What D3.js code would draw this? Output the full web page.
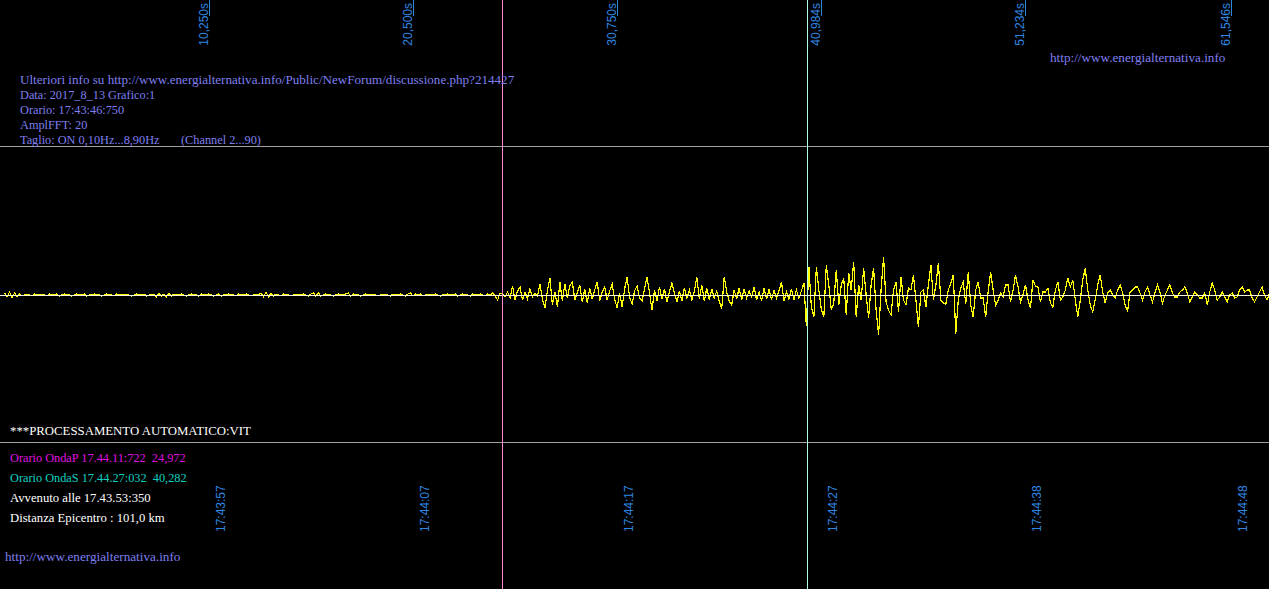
<!DOCTYPE html>
<html><head><meta charset="utf-8">
<script src="https://cdn.jsdelivr.net/npm/d3@7"></script>
<style>html,body{margin:0;padding:0;background:#000;overflow:hidden}</style>
</head><body><svg id="c" width="1269" height="589"></svg>
<script>
// ---- data ----
const sampleRate = 8; // samples per second
const amplitude = [
 2,-2,3,-3,2,-2,1,-1,0,1, 0,-1,1,0,0,1,0,-1,1,0, 0,1,-1,0,1,0,0,-1,0,1, 0,0,1,-1,0,0,1,0,0,-1,
 0,1,0,0,-1,1,0,0,1,0, 0,-1,0,1,0,0,1,-1,0,0, 1,-2,2,-1,1,-2,2,-1,1,0, 0,1,0,-1,0,1,0,0,-1,1,
 0,0,1,0,-1,0,1,-1,0,0, 1,0,0,-1,1,0,0,1,0,-1, 0,1,0,2,-2,3,-2,2,-1,1, 0,-1,1,0,0,-1,0,1,0,0,
 1,0,-1,1,2,-1,2,-1,0,1, 0,0,-1,0,1,0,0,1,2,-1, 1,0,0,-1,0,1,0,0,1,0, -1,0,1,0,0,-1,1,0,0,1,
 0,-1,1,2,-1,1,0,1,-1,0, 1,0,0,1,0,-1,0,0,1,0, 0,1,-1,0,1,0,0,-1,1,0, 0,1,0,-1,1,0,2,-1,-5,2,
 1,-2,3,-3,9,-5,4,8,-5,3, -4,6,-2,2,-1,11,-4,-13,4,17, -10,3,-12,13,-6,11,-3,9,13,-5,
 2,10,-7,6,-8,7,-4,5,13,-6, 3,8,-5,4,11,-4,-13,2,-12,6, 18,-2,-9,4,9,-3,-6,6,18,2,
 -15,5,-6,8,-4,6,-7,3,12,2, -7,4,-6,7,-3,5,-5,4,18,-4, 10,-6,7,-5,6,-3,4,-6,-14,18,
 3,-6,-10,5,-4,7,-5,6,-3,4, -2,8,-5,3,-6,7,-4,6,-5,5, -3,4,13,-6,3,-4,6,-5,5,-3,
 4,12,-31,28,-12,-22,28,5,-14,-22, 30,10,-15,-8,25,-10,10,17,-20,22, 5,33,-22,10,-5,27,0,-23,10,27,
 -15,-40,5,38,-7,-15,-20,5,13,-17, 18,-5,-10,7,5,20,-5,-32,3,5, -12,10,30,-5,10,32,-5,-8,-9,5,
 12,20,-39,-5,7,13,-9,23,-10,-22, 5,13,-3,-3,-22,3,23,5,-10,-5, 2,-2,10,10,-7,5,20,8,-7,0,
 10,-5,-13,15,9,8,-7,3,3,7, -8,-12,5,13,-5,-2,5,17,8,15, -5,-22,-5,15,27,5,-10,-17,-5,10,
 20,3,-8,2,5,0,-3,5,10,2, -10,-16,3,5,8,8,2,-5,3,8, 0,-7,2,10,3,-8,0,5,10,2,
 -2,-2,3,5,8,2,-7,-2,3,0, -3,-3,2,-10,3,12,5,-5,-2,3, -2,-7,0,2,-3,-2,5,8,3,5,
 5,-3,-7,-2,3,8,0,-5,2
];
const tickSeconds = [10.25, 20.5, 30.75, 40.984, 51.234, 61.546];
const topTickLabels = ["10,250s", "20,500s", "30,750s", "40,984s", "51,234s", "61,546s"];
const bottomTickLabels = ["17:43:57", "17:44:07", "17:44:17", "17:44:27", "17:44:38", "17:44:48"];
const pWaveSeconds = 24.972;
const sWaveSeconds = 40.282;
const infoLines = [
 "Ulteriori info su http://www.energialternativa.info/Public/NewForum/discussione.php?214427",
 "Data: 2017_8_13 Grafico:1",
 "Orario: 17:43:46:750",
 "AmplFFT: 20",
 "Taglio: ON 0,10Hz...8,90Hz       (Channel 2...90)"
];
const siteUrl = "http://www.energialternativa.info";
const processingTitle = "***PROCESSAMENTO AUTOMATICO:VIT";
const eventLines = [
 "Orario OndaP 17.44.11:722  24,972",
 "Orario OndaS 17.44.27:032  40,282",
 "Avvenuto alle 17.43.53:350",
 "Distanza Epicentro : 101,0 km"
];

// ---- drawing ----
const W = 1269, H = 589;
const svg = d3.select("#c");
svg.append("rect").attr("width", W).attr("height", H).attr("fill", "#000");

const x = d3.scaleLinear().domain([0, 60]).range([4.6, 4.6 + 19.92 * 60]);
const y = d3.scaleLinear().domain([-100, 100]).range([395, 195]);
const px = v => Math.round(v) + 0.5;

// grey separators
[146, 442].forEach(yy => svg.append("line").attr("x1", 0).attr("x2", W)
  .attr("y1", yy + 0.5).attr("y2", yy + 0.5).attr("stroke", "#a0a0a0").attr("stroke-width", 1));

// waveform
const line = d3.line().x((d, i) => x(i / sampleRate)).y(d => y(d));
svg.append("path").datum(amplitude).attr("d", line).attr("fill", "none")
  .attr("stroke", "#ffff00").attr("stroke-width", 1.2).attr("shape-rendering", "crispEdges");

// centre line
svg.append("line").attr("x1", 0).attr("x2", W).attr("y1", px(y(0))).attr("y2", px(y(0)))
  .attr("stroke", "#f4f4dc").attr("stroke-width", 1);

// P and S markers
svg.append("line").attr("x1", px(x(pWaveSeconds))).attr("x2", px(x(pWaveSeconds)))
  .attr("y1", 0).attr("y2", H).attr("stroke", "#ff88d0").attr("stroke-width", 1);
svg.append("line").attr("x1", px(x(sWaveSeconds))).attr("x2", px(x(sWaveSeconds)))
  .attr("y1", 0).attr("y2", H).attr("stroke", "#b0ffe0").attr("stroke-width", 1);

// top ticks
const tickColor = "#2f86e0";
tickSeconds.forEach((t, i) => {
  const tx = px(x(t));
  svg.append("line").attr("x1", tx).attr("x2", tx).attr("y1", 0).attr("y2", 16)
    .attr("stroke", tickColor).attr("stroke-width", 1);
  svg.append("text").attr("transform", `translate(${tx - 2},3) rotate(-90)`)
    .attr("text-anchor", "end").attr("font-family", "Liberation Sans, Arial, sans-serif")
    .attr("font-size", 12).attr("fill", tickColor).text(topTickLabels[i]);
  svg.append("text").attr("transform", `translate(${tx + 15},532) rotate(-90)`)
    .attr("text-anchor", "start").attr("font-family", "Liberation Sans, Arial, sans-serif")
    .attr("font-size", 12).attr("fill", tickColor).text(bottomTickLabels[i]);
});

const serif = "Liberation Serif, Times New Roman, serif";
const infoColor = "#7f7fef";
infoLines.forEach((s, i) => {
  svg.append("text").attr("x", 20).attr("y", 84 + i * 15).attr("font-family", serif)
    .attr("font-size", i === 0 ? 13.1 : 12.3).attr("fill", infoColor).style("white-space", "pre").text(s);
});
svg.append("text").attr("x", 1050).attr("y", 62).attr("font-family", serif)
  .attr("font-size", 13.2).attr("fill", infoColor).text(siteUrl);
svg.append("text").attr("x", 5).attr("y", 561).attr("font-family", serif)
  .attr("font-size", 13.2).attr("fill", infoColor).text(siteUrl);

svg.append("text").attr("x", 10).attr("y", 435).attr("font-family", serif)
  .attr("font-size", 12.8).attr("fill", "#ffffff").text(processingTitle);
const eventColors = ["#e010e0", "#10d0c0", "#ffffff", "#ffffff"];
const eventSizes = [12.3, 12.3, 12.7, 12.7];
eventLines.forEach((s, i) => {
  svg.append("text").attr("x", 10).attr("y", 462 + i * 20).attr("font-family", serif)
    .attr("font-size", eventSizes[i]).attr("fill", eventColors[i]).style("white-space", "pre").text(s);
});
</script></body></html>
